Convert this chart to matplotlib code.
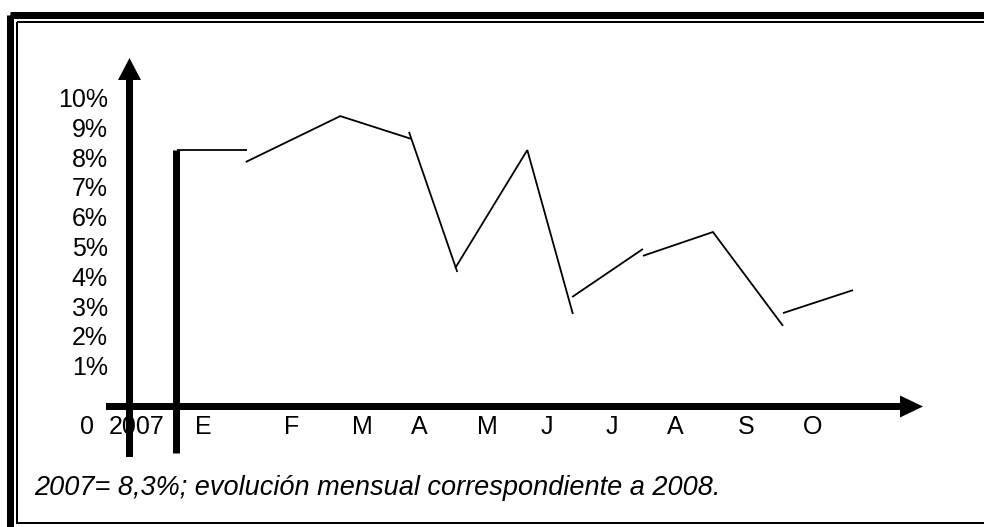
import matplotlib
matplotlib.use("Agg")
import matplotlib.pyplot as plt
from matplotlib.patches import FancyArrow, Rectangle

# ---- data (x in month-position units, y in percent) ----
base_2007 = 8.3
y_ticks = [1, 2, 3, 4, 5, 6, 7, 8, 9, 10]
y_tick_labels = ["1%", "2%", "3%", "4%", "5%", "6%", "7%", "8%", "9%", "10%"]
x_labels = ["0", "2007", "E", "F", "M", "A", "M", "J", "J", "A", "S", "O"]
x_label_pos = [-0.63, 0.10, 1.08, 2.39, 3.43, 4.26, 5.26, 6.14, 7.10, 8.02, 9.07, 10.05]
bar_2007_x = 0.69

# hand-drawn, disconnected segments of the monthly evolution
seg1_x = [0.70, 1.73]
seg1_y = [8.32, 8.32]
seg2_x = [1.71, 3.10, 4.15]
seg2_y = [7.92, 9.46, 8.69]
seg3_x = [4.11, 4.82]
seg3_y = [8.93, 4.23]
seg4_x = [4.79, 5.85, 6.52]
seg4_y = [4.36, 8.32, 2.82]
seg5_x = [6.51, 7.55]
seg5_y = [3.39, 5.00]
seg6_x = [7.55, 8.58, 9.61]
seg6_y = [4.77, 5.57, 2.42]
seg7_x = [9.61, 10.64]
seg7_y = [2.85, 3.62]
segments = [(seg1_x, seg1_y), (seg2_x, seg2_y), (seg3_x, seg3_y), (seg4_x, seg4_y),
            (seg5_x, seg5_y), (seg6_x, seg6_y), (seg7_x, seg7_y)]

caption = "2007= 8,3%; evolución mensual correspondiente a 2008."

# ---- figure ----
W, H = 984, 527
fig = plt.figure(figsize=(W / 100, H / 100), dpi=100)
plt.rcParams['font.family'] = ['Liberation Sans', 'DejaVu Sans']

# pixel-based decoration axes (frames, axis arrows)
deco = fig.add_axes([0, 0, 1, 1])
deco.set_xlim(0, W)
deco.set_ylim(H, 0)
deco.axis("off")

# data axes: x px = 129.5 + 68*x ; y px = 398 - 29.8*y
X0, XS = 129.5, 68.0
Y0, YS = 398.0, 29.8
ax = fig.add_axes([0, 0, 1, 1])
ax.set_xlim((0 - X0) / XS, (W - X0) / XS)
ax.set_ylim((Y0 - H) / YS, Y0 / YS)
ax.axis("off")
ax.patch.set_alpha(0)

PT = 0.72  # points per pixel at 100 dpi

# frames
deco.add_patch(Rectangle((10, 14.5), 1000, 516, fill=False, ec="black", lw=7 * PT))
deco.add_patch(Rectangle((16.5, 21.5), 1000, 501.5, fill=False, ec="black", lw=2 * PT))

# axis arrows
deco.add_patch(FancyArrow(129.5, 457, 0, -(457 - 58), width=7, head_width=23,
                          head_length=22, length_includes_head=True,
                          color="black", lw=0))
deco.add_patch(FancyArrow(106, 406.5, 923 - 106, 0, width=7, head_width=22,
                          head_length=23, length_includes_head=True,
                          color="black", lw=0))

# 2007 bar
ax.plot([bar_2007_x, bar_2007_x], [(Y0 - 453) / YS, base_2007 + 0.02],
        color="black", lw=7 * PT, solid_capstyle="butt")

# monthly segments
for sx, sy in segments:
    ax.plot(sx, sy, color="black", lw=1.8 * PT, solid_capstyle="butt",
            solid_joinstyle="miter")

# y tick labels
for v, lab in zip(y_ticks, y_tick_labels):
    ax.text((108 - X0) / XS, v, lab, ha="right", va="center", fontsize=18)

# x labels
for xp, lab in zip(x_label_pos, x_labels):
    ax.text(xp, (Y0 - 427) / YS, lab, ha="center", va="center", fontsize=18)

# caption
deco.text(34, 488, caption, ha="left", va="center", fontsize=19.5, style="italic")

fig.savefig("out.png", dpi=100)
